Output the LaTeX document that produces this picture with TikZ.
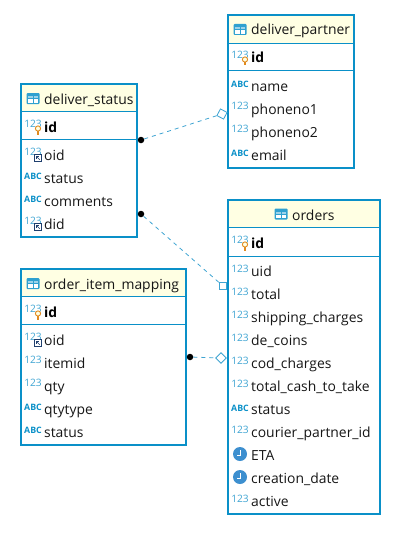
\documentclass[tikz,border=0pt]{standalone}
\usepackage{fontspec}
\setmainfont{Open Sans}
\usetikzlibrary{shapes.geometric}
\usetikzlibrary{arrows,positioning}
\definecolor{dbblue}{HTML}{0A90C8}
\definecolor{dblight}{HTML}{3FA4D2}
\definecolor{dbhead}{HTML}{FFFFE3}
\definecolor{dbtext}{HTML}{161616}
\definecolor{dbkey}{HTML}{E08A1E}
\definecolor{dbclock}{HTML}{3D8FCF}
\definecolor{dbref}{HTML}{1F3F6E}
\tikzset{
  tablebox/.style={draw=dbblue,line width=2.4pt,rectangle,anchor=north west,inner sep=0,outer sep=0},
  headbox/.style={fill=dbhead,rectangle,anchor=north west,inner sep=0,outer sep=0},
  rowname/.style={anchor=base west,inner sep=0,font=\fontsize{13.9}{16}\selectfont,text=dbtext},
  keyname/.style={rowname,font=\fontsize{13.9}{16}\selectfont\bfseries,text=black},
  iconnum/.style={anchor=center,inner sep=0,text=dblight,font=\fontsize{10.2}{12}\selectfont},
  iconabc/.style={anchor=center,inner sep=0,text=dbblue,font=\fontsize{8.8}{10}\selectfont\bfseries},
  srcdot/.style={circle,fill=black,inner sep=0,minimum size=6.5pt},
  tgtmark/.style={draw=dblight,fill=white,rectangle,inner sep=0,minimum size=7.5pt,line width=.8pt},
  reline/.style={draw=dblight,dashed,dash pattern=on 4pt off 4pt,line width=.8pt},
  tableicon/.pic={
    \fill[dbblue!85,rounded corners=1pt] (-6.5,-5.5) rectangle (6.5,5.5);
    \fill[white!60!dbblue] (-5.3,-2.4) rectangle (-.5,-.2);
    \fill[white!60!dbblue] (.5,-2.4) rectangle (5.3,-.2);
    \fill[white] (-5.3,.8) rectangle (-.5,4.2);
    \fill[white] (.5,.8) rectangle (5.3,4.2);
  },
  keyicon/.pic={
    \draw[dbkey,line width=.9pt,fill=dbhead] (0,-1.5) circle (2.6);
    \draw[dbkey,line width=1.1pt] (0,1) -- (0,4.5);
  },
  reficon/.pic={
    \draw[dbref,line width=.8pt,fill=white] (-3.2,-3.2) rectangle (3.2,3.2);
    \draw[dbref,line width=.5pt] (-1.4,-1.4) -- (1.8,1.8);
    \draw[dbref,line width=.5pt] (-1.4,.8) -- (-1.4,-1.4) -- (.8,-1.4);
  },
  clockicon/.pic={
    \fill[dbclock] (0,0) circle (7);
    \draw[white,line width=1pt] (0,-4) -- (0,1) -- (-3.5,1);
  },
}
\begin{document}
\begin{tikzpicture}[x=1pt,y=-1pt]%
\useasboundingbox (0,0) rectangle (416,535);
%% deliver_partner
\node[headbox,minimum width=126pt,minimum height=28pt] (partnerhead) at (228,15) {}; %%
\node[tablebox,minimum width=126pt,minimum height=153pt] (partner) at (228,15) {}; %%
\draw[dbblue,line width=.8pt] (228,43)--(354,43); %%
\draw[dbblue,line width=.8pt] (228,70)--(354,70); %%
\pic at (240,29.5) {tableicon}; %%
\node[rowname] (partnertitle) at (251,35) {deliver\_partner}; %%
\node[iconnum] (p0n) at (240,55) {123}; \pic at (245,61) {keyicon}; %%
\node[keyname] (p0) at (251,63) {id}; %%
\node[iconabc] (p1n) at (240,84) {ABC}; %%
\node[rowname] (p1) at (251,91) {name}; %%
\node[iconnum] (p2n) at (240,106) {123}; %%
\node[rowname] (p2) at (251,114) {phoneno1}; %%
\node[iconnum] (p3n) at (240,129) {123}; %%
\node[rowname] (p3) at (251,137) {phoneno2}; %%
\node[iconabc] (p4n) at (240,153) {ABC}; %%
\node[rowname] (p4) at (251,160) {email}; %%
%% deliver_status
\node[headbox,minimum width=116pt,minimum height=27pt] (statushead) at (21,84) {}; %%
\node[tablebox,minimum width=116pt,minimum height=153pt] (status) at (21,84) {}; %%
\draw[dbblue,line width=.8pt] (21,111)--(137,111); %%
\draw[dbblue,line width=.8pt] (21,139)--(137,139); %%
\pic at (33,98.5) {tableicon}; %%
\node[rowname] (statustitle) at (44,104) {deliver\_status}; %%
\node[iconnum] (s0n) at (33,124) {123}; \pic at (38,130) {keyicon}; %%
\node[keyname] (s0) at (44,132) {id}; %%
\node[iconnum] (s1n) at (33,152) {123}; \pic at (38,158) {reficon}; %%
\node[rowname] (s1) at (44,160) {oid}; %%
\node[iconabc] (s2n) at (33,176) {ABC}; %%
\node[rowname] (s2) at (44,183) {status}; %%
\node[iconabc] (s3n) at (33,199) {ABC}; %%
\node[rowname] (s3) at (44,206) {comments}; %%
\node[iconnum] (s4n) at (33,221) {123}; \pic at (38,227) {reficon}; %%
\node[rowname] (s4) at (44,229) {did}; %%
%% order_item_mapping
\node[headbox,minimum width=165pt,minimum height=27pt] (maphead) at (21,269) {}; %%
\node[tablebox,minimum width=165pt,minimum height=176pt] (map) at (21,269) {}; %%
\draw[dbblue,line width=.8pt] (21,296)--(186,296); %%
\draw[dbblue,line width=.8pt] (21,324)--(186,324); %%
\pic at (33,283.5) {tableicon}; %%
\node[rowname] (maptitle) at (44,289) {order\_item\_mapping}; %%
\node[iconnum] (m0n) at (33,309) {123}; \pic at (38,315) {keyicon}; %%
\node[keyname] (m0) at (44,317) {id}; %%
\node[iconnum] (m1n) at (33,337) {123}; \pic at (38,343) {reficon}; %%
\node[rowname] (m1) at (44,345) {oid}; %%
\node[iconnum] (m2n) at (33,360) {123}; %%
\node[rowname] (m2) at (44,368) {itemid}; %%
\node[iconnum] (m3n) at (33,383) {123}; %%
\node[rowname] (m3) at (44,391) {qty}; %%
\node[iconabc] (m4n) at (33,407) {ABC}; %%
\node[rowname] (m4) at (44,414) {qtytype}; %%
\node[iconabc] (m5n) at (33,430) {ABC}; %%
\node[rowname] (m5) at (44,437) {status}; %%
%% orders
\node[headbox,minimum width=152pt,minimum height=27pt] (ordershead) at (228,200) {}; %%
\node[tablebox,minimum width=152pt,minimum height=314pt] (orders) at (228,200) {}; %%
\draw[dbblue,line width=.8pt] (228,227)--(380,227); %%
\draw[dbblue,line width=.8pt] (228,256)--(380,256); %%
\pic at (281,214) {tableicon}; %%
\node[rowname] (orderstitle) at (292,220) {orders}; %%
\node[iconnum] (o0n) at (240,240) {123}; \pic at (245,246) {keyicon}; %%
\node[keyname] (o0) at (251,248) {id}; %%
\node[iconnum] (o1n) at (240,269) {123}; %%
\node[rowname] (o1) at (251,276) {uid}; %%
\node[iconnum] (o2n) at (240,292) {123}; %%
\node[rowname] (o2) at (251,299) {total}; %%
\node[iconnum] (o3n) at (240,315) {123}; %%
\node[rowname] (o3) at (251,322) {shipping\_charges}; %%
\node[iconnum] (o4n) at (240,338) {123}; %%
\node[rowname] (o4) at (251,345) {de\_coins}; %%
\node[iconnum] (o5n) at (240,361) {123}; %%
\node[rowname] (o5) at (251,368) {cod\_charges}; %%
\node[iconnum] (o6n) at (240,384) {123}; %%
\node[rowname] (o6) at (251,391) {total\_cash\_to\_take}; %%
\node[iconabc] (o7n) at (240,408) {ABC}; %%
\node[rowname] (o7) at (251,414) {status}; %%
\node[iconnum] (o8n) at (240,430) {123}; %%
\node[rowname] (o8) at (251,437) {courier\_partner\_id}; %%
\pic at (240,454) {clockicon}; %%
\node[rowname] (o9) at (251,460) {ETA}; %%
\pic at (240,477) {clockicon}; %%
\node[rowname] (o10) at (251,483) {creation\_date}; %%
\node[iconnum] (o11n) at (240,499) {123}; %%
\node[rowname] (o11) at (251,506) {active}; %%
%% links
\node[srcdot] (statusdota) at (141,140) {}; %%
\node[srcdot] (statusdotb) at (141,214) {}; %%
\node[srcdot] (mapdot) at (190,357) {}; %%
\node[tgtmark,rotate=63] (partnermark) at (222,114) {}; %%
\node[tgtmark] (ordersmarka) at (223,286) {}; %%
\node[tgtmark,rotate=45] (ordersmarkb) at (221,358) {}; %%
\draw[reline] (statusdota)--(partnermark); %%
\draw[reline] (statusdotb)--(ordersmarka); %%
\draw[reline] (mapdot)--(ordersmarkb); %%
\end{tikzpicture}
\end{document}
